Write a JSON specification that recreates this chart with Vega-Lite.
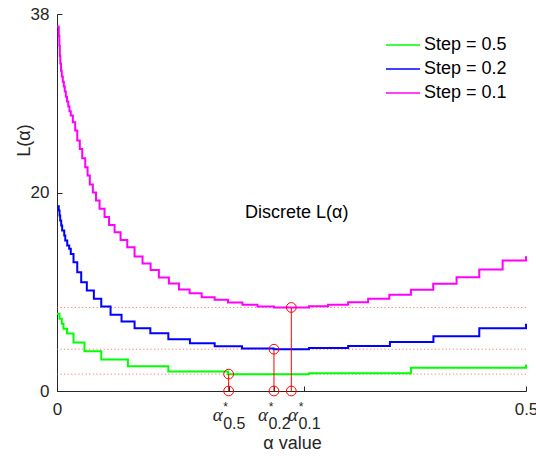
{
  "$schema": "https://vega.github.io/schema/vega-lite/v6.json",
  "width": 469,
  "height": 377,
  "autosize": "none",
  "padding": {"left": 57, "top": 14, "right": 10, "bottom": 66},
  "config": {
    "view": {"stroke": null},
    "font": "Liberation Sans",
    "axis": {
      "domainColor": "#262626",
      "tickColor": "#262626",
      "labelColor": "#262626",
      "titleColor": "#262626",
      "labelFont": "Liberation Sans",
      "titleFont": "Liberation Sans",
      "labelFontSize": 17,
      "titleFontSize": 18,
      "titleFontWeight": "normal",
      "grid": false,
      "tickSize": -5,
      "domainWidth": 1,
      "tickWidth": 1
    }
  },
  "datasets": {
    "curves": [
      {"s": "Step = 0.5", "a": 0, "L": 7.78},
      {"s": "Step = 0.5", "a": 0.0027, "L": 7.27},
      {"s": "Step = 0.5", "a": 0.0051, "L": 6.77},
      {"s": "Step = 0.5", "a": 0.0069, "L": 6.27},
      {"s": "Step = 0.5", "a": 0.0107, "L": 5.79},
      {"s": "Step = 0.5", "a": 0.0176, "L": 4.89},
      {"s": "Step = 0.5", "a": 0.0293, "L": 4.01},
      {"s": "Step = 0.5", "a": 0.0472, "L": 3.17},
      {"s": "Step = 0.5", "a": 0.0756, "L": 2.50},
      {"s": "Step = 0.5", "a": 0.1187, "L": 1.97},
      {"s": "Step = 0.5", "a": 0.1823, "L": 1.70},
      {"s": "Step = 0.5", "a": 0.2684, "L": 1.80},
      {"s": "Step = 0.5", "a": 0.3773, "L": 2.34},
      {"s": "Step = 0.5", "a": 0.5, "L": 2.67},
      {"s": "Step = 0.2", "a": 0, "L": 18.62},
      {"s": "Step = 0.2", "a": 0.0019, "L": 18.19},
      {"s": "Step = 0.2", "a": 0.0027, "L": 17.68},
      {"s": "Step = 0.2", "a": 0.0034, "L": 17.18},
      {"s": "Step = 0.2", "a": 0.0045, "L": 16.67},
      {"s": "Step = 0.2", "a": 0.0055, "L": 16.17},
      {"s": "Step = 0.2", "a": 0.0077, "L": 15.67},
      {"s": "Step = 0.2", "a": 0.0088, "L": 15.16},
      {"s": "Step = 0.2", "a": 0.0109, "L": 14.66},
      {"s": "Step = 0.2", "a": 0.0130, "L": 14.33},
      {"s": "Step = 0.2", "a": 0.0147, "L": 13.82},
      {"s": "Step = 0.2", "a": 0.0176, "L": 12.98},
      {"s": "Step = 0.2", "a": 0.0216, "L": 11.97},
      {"s": "Step = 0.2", "a": 0.0258, "L": 10.96},
      {"s": "Step = 0.2", "a": 0.0318, "L": 10.13},
      {"s": "Step = 0.2", "a": 0.0393, "L": 9.29},
      {"s": "Step = 0.2", "a": 0.0472, "L": 8.51},
      {"s": "Step = 0.2", "a": 0.0571, "L": 7.68},
      {"s": "Step = 0.2", "a": 0.0688, "L": 7.00},
      {"s": "Step = 0.2", "a": 0.0827, "L": 6.33},
      {"s": "Step = 0.2", "a": 0.0995, "L": 5.82},
      {"s": "Step = 0.2", "a": 0.1187, "L": 5.22},
      {"s": "Step = 0.2", "a": 0.1417, "L": 4.82},
      {"s": "Step = 0.2", "a": 0.1681, "L": 4.51},
      {"s": "Step = 0.2", "a": 0.1972, "L": 4.28},
      {"s": "Step = 0.2", "a": 0.231, "L": 4.21},
      {"s": "Step = 0.2", "a": 0.2687, "L": 4.33},
      {"s": "Step = 0.2", "a": 0.3104, "L": 4.53},
      {"s": "Step = 0.2", "a": 0.3549, "L": 4.94},
      {"s": "Step = 0.2", "a": 0.4013, "L": 5.52},
      {"s": "Step = 0.2", "a": 0.4502, "L": 6.33},
      {"s": "Step = 0.2", "a": 0.5, "L": 6.77},
      {"s": "Step = 0.1", "a": 0, "L": 36.75},
      {"s": "Step = 0.1", "a": 0.0019, "L": 35.82},
      {"s": "Step = 0.1", "a": 0.0025, "L": 34.81},
      {"s": "Step = 0.1", "a": 0.0030, "L": 33.80},
      {"s": "Step = 0.1", "a": 0.0035, "L": 33.0},
      {"s": "Step = 0.1", "a": 0.0043, "L": 32.29},
      {"s": "Step = 0.1", "a": 0.0051, "L": 31.69},
      {"s": "Step = 0.1", "a": 0.0062, "L": 31.18},
      {"s": "Step = 0.1", "a": 0.0073, "L": 30.68},
      {"s": "Step = 0.1", "a": 0.0083, "L": 30.18},
      {"s": "Step = 0.1", "a": 0.0094, "L": 29.67},
      {"s": "Step = 0.1", "a": 0.0107, "L": 29.17},
      {"s": "Step = 0.1", "a": 0.0120, "L": 28.67},
      {"s": "Step = 0.1", "a": 0.0133, "L": 28.21},
      {"s": "Step = 0.1", "a": 0.0147, "L": 27.76},
      {"s": "Step = 0.1", "a": 0.0169, "L": 27.08},
      {"s": "Step = 0.1", "a": 0.0194, "L": 26.25},
      {"s": "Step = 0.1", "a": 0.0216, "L": 25.24},
      {"s": "Step = 0.1", "a": 0.0243, "L": 24.40},
      {"s": "Step = 0.1", "a": 0.0269, "L": 23.46},
      {"s": "Step = 0.1", "a": 0.0301, "L": 22.55},
      {"s": "Step = 0.1", "a": 0.0326, "L": 21.71},
      {"s": "Step = 0.1", "a": 0.0350, "L": 20.81},
      {"s": "Step = 0.1", "a": 0.0382, "L": 20.0},
      {"s": "Step = 0.1", "a": 0.0416, "L": 19.19},
      {"s": "Step = 0.1", "a": 0.0454, "L": 18.36},
      {"s": "Step = 0.1", "a": 0.0507, "L": 17.53},
      {"s": "Step = 0.1", "a": 0.0555, "L": 16.73},
      {"s": "Step = 0.1", "a": 0.0614, "L": 16.0},
      {"s": "Step = 0.1", "a": 0.0678, "L": 15.23},
      {"s": "Step = 0.1", "a": 0.0749, "L": 14.49},
      {"s": "Step = 0.1", "a": 0.0827, "L": 13.55},
      {"s": "Step = 0.1", "a": 0.0912, "L": 12.85},
      {"s": "Step = 0.1", "a": 0.0998, "L": 12.19},
      {"s": "Step = 0.1", "a": 0.1086, "L": 11.44},
      {"s": "Step = 0.1", "a": 0.1193, "L": 10.83},
      {"s": "Step = 0.1", "a": 0.1300, "L": 10.23},
      {"s": "Step = 0.1", "a": 0.1414, "L": 9.85},
      {"s": "Step = 0.1", "a": 0.1542, "L": 9.45},
      {"s": "Step = 0.1", "a": 0.1681, "L": 9.19},
      {"s": "Step = 0.1", "a": 0.1823, "L": 8.92},
      {"s": "Step = 0.1", "a": 0.1977, "L": 8.69},
      {"s": "Step = 0.1", "a": 0.2137, "L": 8.51},
      {"s": "Step = 0.1", "a": 0.2314, "L": 8.42},
      {"s": "Step = 0.1", "a": 0.2687, "L": 8.54},
      {"s": "Step = 0.1", "a": 0.2890, "L": 8.69},
      {"s": "Step = 0.1", "a": 0.3104, "L": 8.95},
      {"s": "Step = 0.1", "a": 0.3317, "L": 9.29},
      {"s": "Step = 0.1", "a": 0.3543, "L": 9.69},
      {"s": "Step = 0.1", "a": 0.3773, "L": 10.20},
      {"s": "Step = 0.1", "a": 0.4011, "L": 10.80},
      {"s": "Step = 0.1", "a": 0.4260, "L": 11.47},
      {"s": "Step = 0.1", "a": 0.4502, "L": 12.24},
      {"s": "Step = 0.1", "a": 0.4751, "L": 13.15},
      {"s": "Step = 0.1", "a": 0.5, "L": 13.58}
    ],
    "opt": [
      {"a": 0.183, "L": 1.70},
      {"a": 0.2313, "L": 4.21},
      {"a": 0.2498, "L": 8.42}
    ],
    "ticks": [
      {"t": 0.183, "sub": "0.5"},
      {"t": 0.2313, "sub": "0.2"},
      {"t": 0.2633, "sub": "0.1"}
    ],
    "note": [
      {"a": 0.2555, "L": 17.9, "txt": "Discrete L(α)"}
    ]
  },
  "layer": [
    {
      "data": {"name": "opt"},
      "mark": {"type": "rule", "color": "#ff5a5a", "strokeDash": [1.2, 2.4], "strokeWidth": 1, "opacity": 0.8},
      "encoding": {
        "y": {"field": "L", "type": "quantitative", "scale": {"domain": [0, 38]}}
      }
    },
    {
      "data": {"name": "curves"},
      "mark": {"type": "line", "interpolate": "step-after", "strokeWidth": 2},
      "encoding": {
        "x": {
          "field": "a", "type": "quantitative",
          "scale": {"domain": [0, 0.5], "nice": false, "zero": false},
          "axis": {
            "values": [0, 0.183, 0.2313, 0.2633, 0.5],
            "labelExpr": "datum.value == 0 ? '0' : (datum.value == 0.5 ? '0.5' : '')",
            "labelFlush": false,
            "labelOverlap": false,
            "labelPadding": 15,
            "title": "α value",
            "titleBaseline": "alphabetic",
            "titleY": 57,
            "titleX": 235
          }
        },
        "y": {
          "field": "L", "type": "quantitative",
          "scale": {"domain": [0, 38], "nice": false},
          "axis": {
            "values": [0, 20, 38],
            "labelPadding": 13,
            "title": "L(α)",
            "titleAngle": -90,
            "titleBaseline": "alphabetic",
            "titleAlign": "center",
            "titleX": -28,
            "titleY": 126
          }
        },
        "color": {
          "field": "s", "type": "nominal",
          "scale": {"domain": ["Step = 0.5", "Step = 0.2", "Step = 0.1"], "range": ["#00ff00", "#0000ff", "#ff00ff"]},
          "legend": {
            "title": null,
            "orient": "none",
            "legendX": 328,
            "legendY": 19,
            "padding": 0,
            "symbolType": "stroke",
            "symbolSize": 1156,
            "symbolStrokeWidth": 1.5,
            "labelFontSize": 18,
            "labelColor": "#000000",
            "labelOffset": 3,
            "rowPadding": 0,
            "clipHeight": 24
          }
        }
      }
    },
    {
      "data": {"name": "opt"},
      "mark": {"type": "rule", "color": "#ff0000", "strokeWidth": 1},
      "encoding": {
        "x": {"field": "a", "type": "quantitative"},
        "y": {"field": "L", "type": "quantitative"},
        "y2": {"datum": 0}
      }
    },
    {
      "data": {"name": "opt"},
      "mark": {"type": "point", "shape": "circle", "filled": false, "color": "#ff0000", "size": 95, "strokeWidth": 1, "opacity": 1},
      "encoding": {
        "x": {"field": "a", "type": "quantitative"},
        "y": {"field": "L", "type": "quantitative"}
      }
    },
    {
      "data": {"name": "opt"},
      "mark": {"type": "point", "shape": "circle", "filled": false, "color": "#ff0000", "size": 95, "strokeWidth": 1, "opacity": 1},
      "encoding": {
        "x": {"field": "a", "type": "quantitative"},
        "y": {"datum": 0}
      }
    },
    {
      "data": {"name": "ticks"},
      "mark": {"type": "text", "text": "α", "font": "Liberation Serif", "fontStyle": "italic", "fontSize": 19, "align": "center", "baseline": "alphabetic", "dx": -11, "dy": 30, "color": "#262626"},
      "encoding": {
        "x": {"field": "t", "type": "quantitative"},
        "y": {"datum": 0}
      }
    },
    {
      "data": {"name": "ticks"},
      "mark": {"type": "text", "text": "*", "font": "Liberation Sans", "fontSize": 12, "align": "center", "baseline": "alphabetic", "dx": -3, "dy": 20, "color": "#262626"},
      "encoding": {
        "x": {"field": "t", "type": "quantitative"},
        "y": {"datum": 0}
      }
    },
    {
      "data": {"name": "ticks"},
      "mark": {"type": "text", "font": "Liberation Sans", "fontSize": 16, "align": "left", "baseline": "alphabetic", "dx": -5.5, "dy": 38, "color": "#262626"},
      "encoding": {
        "x": {"field": "t", "type": "quantitative"},
        "y": {"datum": 0},
        "text": {"field": "sub"}
      }
    },
    {
      "data": {"name": "note"},
      "mark": {"type": "text", "font": "Liberation Sans", "fontSize": 18, "align": "center", "baseline": "middle", "color": "#000000"},
      "encoding": {
        "x": {"field": "a", "type": "quantitative"},
        "y": {"field": "L", "type": "quantitative"},
        "text": {"field": "txt"}
      }
    }
  ]
}
